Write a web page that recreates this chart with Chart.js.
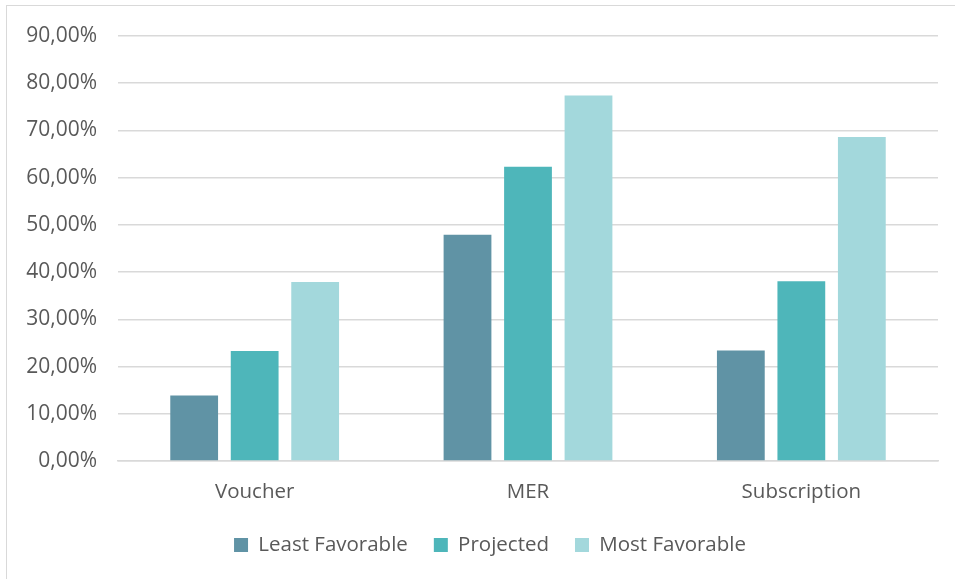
<!DOCTYPE html>
<html>
<head>
<meta charset="utf-8">
<script src="https://cdn.jsdelivr.net/npm/chart.js@4"></script>
<style>
  html, body { margin: 0; padding: 0; background: #fff; }
  #wrap { position: relative; width: 955px; height: 579px; overflow: hidden; }
  #frame { position: absolute; left: 6px; top: 5px; width: 1200px; height: 1200px; border: 1px solid #d9d9d9; box-sizing: border-box; }
  canvas { position: absolute; left: 0; top: 0; }
</style>
</head>
<body>
<div id="wrap">
  <div id="frame"></div>
  <canvas id="c" width="955" height="579"></canvas>
</div>
<script>
const categories = ["Voucher", "MER", "Subscription"];
const seriesNames = ["Least Favorable", "Projected", "Most Favorable"];
const leastFavorable = [13.9, 47.9, 23.4];
const projected = [23.3, 62.3, 38.1];
const mostFavorable = [37.9, 77.4, 68.6];
const yTicks = [0, 10, 20, 30, 40, 50, 60, 70, 80, 90];
const colors = ["#6093A5", "#4EB6BA", "#A3D8DC"];

const fontFamily = "'Open Sans', 'Noto Sans', sans-serif";
const textColor = "#595959";
const legendPad = 26;

const legendPlacer = {
  id: "legendPlacer",
  afterLayout(chart) {
    const L = chart.legend;
    if (!L) return;
    const dx = 21;
    const itemH = L._itemHeight || 24.6;
    const newTop = 547 - legendPad - itemH / 2;
    const dy = newTop - L.top;
    L.left += dx; L.right += dx;
    L.top += dy; L.bottom += dy;
  }
};

new Chart(document.getElementById("c"), {
  type: "bar",
  data: {
    labels: categories,
    datasets: [leastFavorable, projected, mostFavorable].map((d, i) => ({
      label: seriesNames[i],
      data: d,
      backgroundColor: colors[i],
      borderWidth: 0,
      categoryPercentage: 0.664,
      barPercentage: 0.79
    }))
  },
  plugins: [legendPlacer],
  options: {
    responsive: false,
    animation: false,
    devicePixelRatio: 1,
    layout: { padding: { left: 0, right: 17, top: 36, bottom: 0 } },
    plugins: {
      tooltip: { enabled: false },
      legend: {
        position: "bottom",
        labels: {
          boxWidth: 14,
          boxHeight: 14,
          padding: legendPad,
          color: textColor,
          font: { family: fontFamily, size: 20.5 }
        }
      }
    },
    scales: {
      x: {
        grid: { display: false, drawTicks: false },
        border: { display: true, color: "#d9d9d9", width: 1.5 },
        ticks: { color: textColor, padding: 19, font: { family: fontFamily, size: 20.5 } },
        afterFit: (s) => { s.height = 61.4; }
      },
      y: {
        min: 0,
        max: 90,
        afterBuildTicks: (s) => { s.ticks = yTicks.map(v => ({ value: v })); },
        grid: { color: "#d9d9d9", lineWidth: 1.5, drawTicks: false },
        border: { display: false },
        ticks: {
          color: textColor,
          padding: 21,
          font: { family: fontFamily, size: 21 },
          callback: (v) => Number(v).toFixed(2).replace(".", ",") + "%"
        },
        afterFit: (s) => { s.width = 118; }
      }
    }
  }
});
</script>
</body>
</html>
